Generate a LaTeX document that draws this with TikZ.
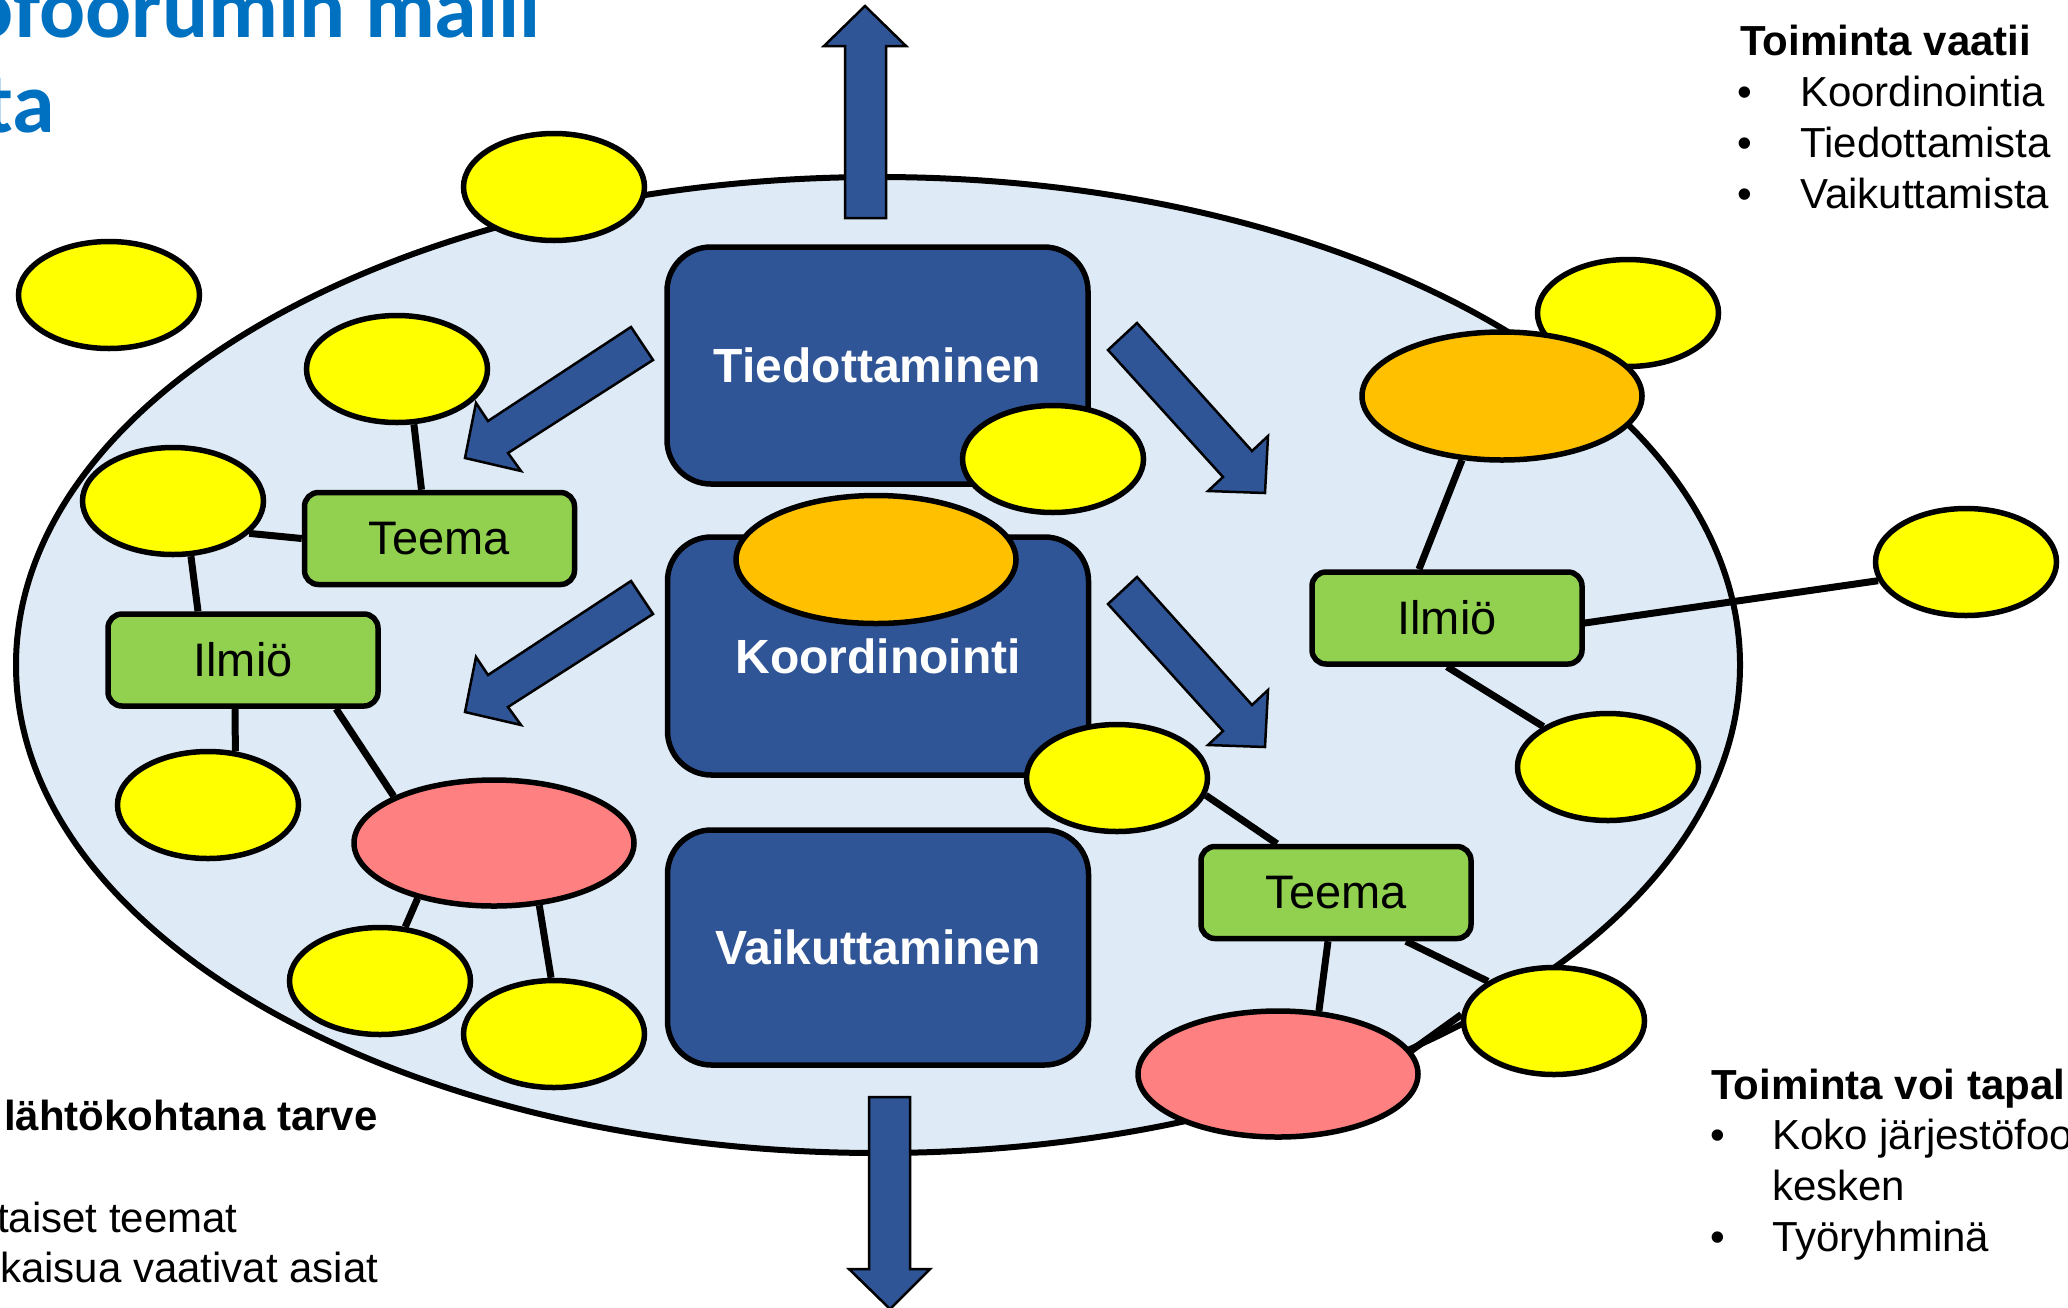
\documentclass[tikz,border=0pt]{standalone}
\usepackage{fontspec}
\setmainfont{Liberation Sans}
\newfontfamily\titlefont{Carlito}
\usetikzlibrary{shapes.geometric}
\pgfdeclarelayer{bg}
\pgfdeclarelayer{lines}
\pgfsetlayers{bg,lines,main}
\definecolor{paleblue}{RGB}{222,234,246}
\definecolor{boxblue}{RGB}{47,85,151}
\definecolor{leafgreen}{RGB}{146,208,80}
\definecolor{sunyellow}{RGB}{255,255,0}
\definecolor{amber}{RGB}{255,192,0}
\definecolor{salmon}{RGB}{255,128,128}
\definecolor{titleblue}{RGB}{0,112,192}
\tikzset{
  bluebox/.style={draw=black, line width=5.5pt, fill=boxblue, rounded corners=44pt,
    minimum width=421pt, minimum height=237pt, inner sep=0pt, text=white,
    font=\fontsize{48}{58}\selectfont\bfseries},
  greenbox/.style={draw=black, line width=5.5pt, fill=leafgreen, rounded corners=14pt,
    minimum width=270pt, minimum height=92pt, inner sep=0pt,
    font=\fontsize{47}{56}\selectfont},
  oval/.style={ellipse, draw=black, line width=5.5pt, inner sep=0pt},
  yel/.style={oval, fill=sunyellow, minimum width=181pt, minimum height=107pt},
  ora/.style={oval, fill=amber, minimum width=280pt, minimum height=128pt},
  redel/.style={oval, fill=salmon, minimum width=280pt, minimum height=126pt},
  blockarrow/.style={draw=black, line width=2.5pt, fill=boxblue, line join=miter},
  link/.style={draw=black, line width=7pt},
  txt/.style={anchor=base west, inner sep=0pt, font=\fontsize{42}{50}\selectfont},
  txtb/.style={txt, font=\fontsize{42}{50}\selectfont\bfseries},
  ttl/.style={anchor=base east, inner sep=0pt, text=titleblue,
    font=\fontsize{86}{95}\titlefont\bfseries}
}
\begin{document}
\begin{tikzpicture}[x=1pt,y=-1pt]
\useasboundingbox (0,0) rectangle (2068,1307);
\clip (0,0) rectangle (2068,1307);

% big field
\begin{pgfonlayer}{bg}
\node[ellipse, draw=black, line width=6pt, fill=paleblue, inner sep=0pt,
  minimum width=1724pt, minimum height=976pt] (field) at (878,665) {};
\end{pgfonlayer}

% title and texts
\node[ttl] (title1) at (541,37) {ofoorumin malli};
\node[ttl] (title2) at (55,132) {ta};

\node[txtb] (tr0) at (1740,55) {Toiminta vaatii};
\node[txt] (trb1) at (1737,106) {•};
\node[txt] (trt1) at (1800,106) {Koordinointia};
\node[txt] (trb2) at (1737,157) {•};
\node[txt] (trt2) at (1800,157) {Tiedottamista};
\node[txt] (trb3) at (1737,208) {•};
\node[txt] (trt3) at (1800,208) {Vaikuttamista};

\node[txtb] (bl0) at (4,1130) {lähtökohtana tarve};
\node[txt] (bl1) at (-3,1232) {taiset teemat};
\node[txt] (bl2) at (0,1282) {kaisua vaativat asiat};

\node[txtb] (br0) at (1711,1099) {Toiminta voi tapal};
\node[txt] (brb1) at (1710,1149) {•};
\node[txt] (brt1) at (1772,1149) {Koko järjestöfoo};
\node[txt] (brt1b) at (1772,1200) {kesken};
\node[txt] (brb2) at (1710,1251) {•};
\node[txt] (brt2) at (1772,1251) {Työryhminä};

% block arrows
\draw[blockarrow] (845,218) -- (845,46) -- (824,46) -- (865,6) -- (906,46) -- (886,46) -- (886,218) -- cycle;
\draw[blockarrow] (869,1097) -- (910,1097) -- (910,1269) -- (930,1269) -- (890,1309) -- (849,1269) -- (869,1269) -- cycle;
\draw[blockarrow] (631,327) -- (653,360) -- (508,453) -- (521,471) -- (465,458) -- (476,403) -- (488,421) -- cycle;
\draw[blockarrow] (631,581) -- (653,614) -- (508,707) -- (521,725) -- (465,712) -- (476,657) -- (488,675) -- cycle;
\draw[blockarrow] (1137,323) -- (1252,451) -- (1268,436) -- (1265,493) -- (1208,491) -- (1223,477) -- (1108,350) -- cycle;
\draw[blockarrow] (1137,577) -- (1252,705) -- (1268,690) -- (1265,747) -- (1208,745) -- (1223,731) -- (1108,604) -- cycle;

% central boxes
\node[bluebox] (tied) at (877.5,365.5) {Tiedottaminen};
\node[bluebox, minimum height=238pt] (koord) at (878,656) {Koordinointi};
\node[bluebox, minimum height=235pt] (vaik) at (878,947.5) {Vaikuttaminen};

% green boxes
\node[greenbox] (tl) at (439.5,538.5) {Teema};
\node[greenbox] (il) at (243,660) {Ilmiö};
\node[greenbox] (ir) at (1447,618) {Ilmiö};
\node[greenbox] (tr) at (1336,892.5) {Teema};

% yellow ellipses
\node[yel] (y1) at (554,187) {};
\node[yel] (y2) at (109,295) {};
\node[yel] (y3) at (397,369) {};
\node[yel] (y4) at (173,501) {};
\node[yel] (y5) at (208,805) {};
\node[yel] (y6) at (380,981) {};
\node[yel] (y7) at (554,1034) {};
\node[yel] (y8) at (1053,459) {};
\node[yel] (y9) at (1117,778) {};
\node[yel] (y10) at (1628,313) {};
\node[yel] (y11) at (1966,562) {};
\node[yel] (y12) at (1608,767) {};
\node[yel] (y13) at (1554,1021) {};

% orange and red ellipses
\node[ora] (otr) at (1502,396) {};
\node[ora] (oc) at (876,559.5) {};
\node[redel] (rl) at (494,843) {};
\node[redel] (rr) at (1278,1074) {};

% connectors
\begin{pgfonlayer}{lines}
\draw[link] (y3.287) -- ([xshift=-18pt]tl.north);
\draw[link] (y4.337) -- (tl.west);
\draw[link] (y4.288) -- ([xshift=-45pt]il.north);
\draw[link] ([xshift=-8pt]il.south) -- (y5.63);
\draw[link] ([xshift=93pt]il.south) -- (rl.155);
\draw[link] (rl.216) -- (y6.65);
\draw[link] (rl.306) -- (y7.93);
\draw[link] (otr.238) -- ([xshift=-28pt]ir.north);
\draw[link] ([yshift=-5pt]ir.east) -- (y11.192);
\draw[link] (ir.south) -- (y12.148);
\draw[link] (y9.349) -- ([xshift=-59pt]tr.north);
\draw[link] ([xshift=-8pt]tr.south) -- (rr.57);
\draw[link] ([xshift=70pt]tr.south) -- (y13.149);
\draw[link] (rr.10) -- (y13.176);
\end{pgfonlayer}
\end{tikzpicture}
\end{document}
